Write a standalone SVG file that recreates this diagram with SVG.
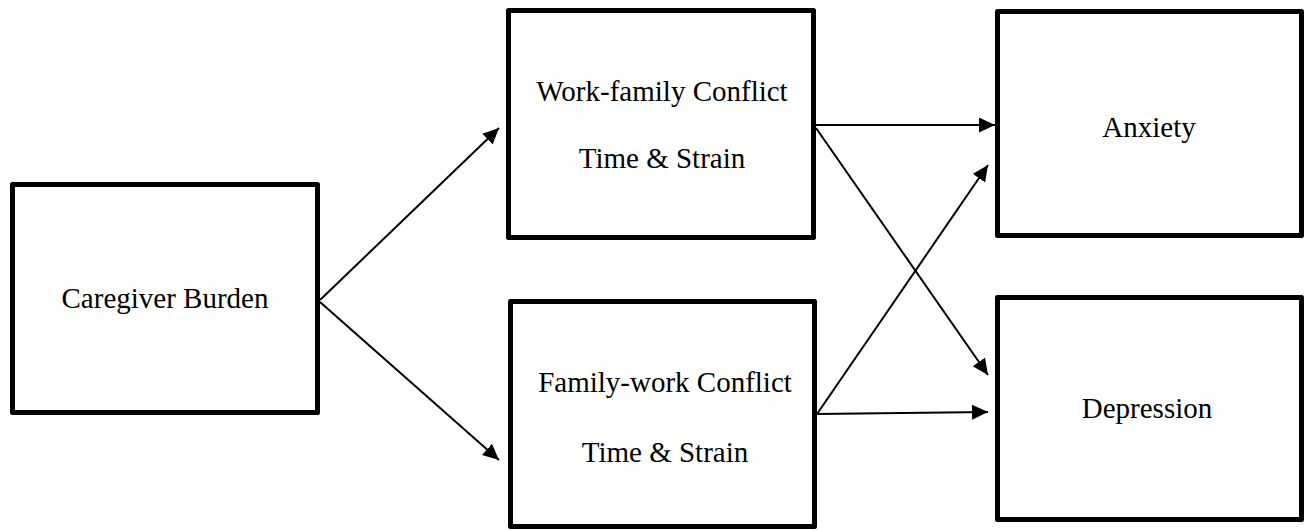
<svg xmlns="http://www.w3.org/2000/svg" width="1311" height="531" viewBox="0 0 1311 531">
<style>
.box{fill:#fff;stroke:#000;stroke-width:5;stroke-linejoin:round}
.lbl{font-family:"Liberation Serif","Times New Roman",serif;font-size:29px;fill:#000;text-anchor:middle}
.edge{stroke:#000;stroke-width:2;fill:none}
</style>
<defs>
<marker id="ah" markerUnits="userSpaceOnUse" markerWidth="18" markerHeight="16" refX="16" refY="7.5" orient="auto">
<path d="M0,0 L16,7.5 L0,15 z" fill="#000"/>
</marker>
</defs>
<rect width="1311" height="531" fill="#fff"/>
<g id="caregiver">
<rect class="box" x="12.5" y="184.5" width="305" height="228"/>
<text class="lbl" x="165" y="308">Caregiver Burden</text>
</g>
<g id="workfamily">
<rect class="box" x="508.5" y="10.5" width="305" height="227"/>
<text class="lbl" x="662" y="101">Work-family Conflict</text>
<text class="lbl" x="662" y="168">Time &amp; Strain</text>
</g>
<g id="familywork">
<rect class="box" x="510.5" y="301.5" width="304" height="225"/>
<text class="lbl" x="665" y="392">Family-work Conflict</text>
<text class="lbl" x="665" y="462">Time &amp; Strain</text>
</g>
<g id="anxiety">
<rect class="box" x="997.5" y="11.5" width="304" height="224"/>
<text class="lbl" x="1149" y="137">Anxiety</text>
</g>
<g id="depression">
<rect class="box" x="997.5" y="297.5" width="304" height="222"/>
<text class="lbl" x="1147" y="418">Depression</text>
</g>
<g id="connectors">
<line class="edge" x1="320" y1="300" x2="499" y2="128" marker-end="url(#ah)"/>
<line class="edge" x1="320" y1="302" x2="499" y2="460" marker-end="url(#ah)"/>
<line class="edge" x1="816" y1="125" x2="995" y2="125" marker-end="url(#ah)"/>
<line class="edge" x1="816" y1="128" x2="988" y2="375" marker-end="url(#ah)"/>
<line class="edge" x1="817" y1="414" x2="988" y2="165" marker-end="url(#ah)"/>
<line class="edge" x1="817" y1="414" x2="988" y2="412" marker-end="url(#ah)"/>
</g>
</svg>
